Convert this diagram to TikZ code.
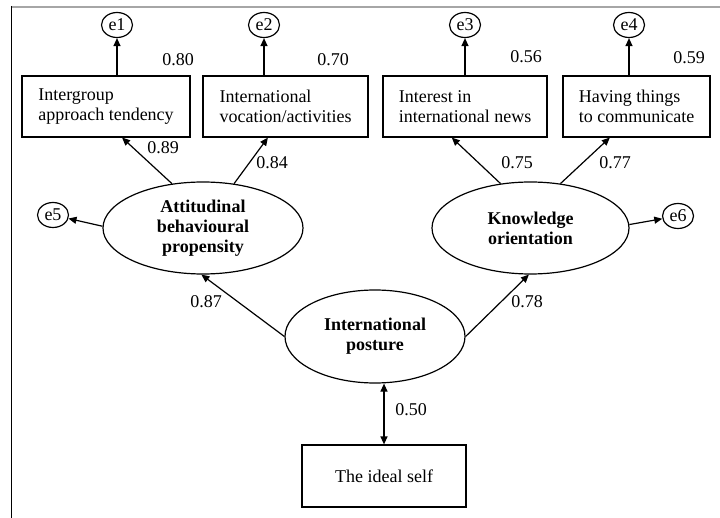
\documentclass[tikz,border=0pt]{standalone}
\usepackage{fontspec}
\setmainfont{Liberation Serif}
\usetikzlibrary{shapes.geometric,arrows.meta,calc}
\begin{document}
\begin{tikzpicture}[x=1pt,y=-1pt,
  box/.style={draw, line width=1.2pt, rectangle, inner sep=0pt, align=left, font=\fontsize{18}{20}\selectfont},
  lat/.style={draw, ellipse, line width=1.2pt, inner sep=0pt, align=center, font=\bfseries\fontsize{18}{20}\selectfont},
  err/.style={draw, ellipse, line width=1.2pt, inner sep=0pt, minimum width=31pt, minimum height=25pt, font=\fontsize{18}{20}\selectfont},
  num/.style={font=\fontsize{18}{20}\selectfont, inner sep=0pt},
  arr/.style={-{Triangle[length=8pt,width=7pt]}, line width=1.2pt}]
\useasboundingbox (0,0) rectangle (720,518);
\draw[gray!70, line width=2.5pt] (11,7) -- (720,7);
\draw[line width=1.5pt] (11.5,6) -- (11.5,518);

% indicator boxes
\node[box, minimum width=168pt, minimum height=61pt] (b1) at (106,106.5) {Intergroup\\approach tendency};
\node[box, minimum width=165pt, minimum height=61pt] (b2) at (285.5,106.5) {International\\vocation/activities};
\node[box, minimum width=164pt, minimum height=61pt] (b3) at (465,106.5) {Interest in\\international news};
\node[box, minimum width=147pt, minimum height=61pt] (b4) at (636.5,106.5) {Having things\\to communicate};

% error terms
\node[err] (e1) at (117,25) {e1};
\node[err] (e2) at (264,25) {e2};
\node[err] (e3) at (465,25) {e3};
\node[err] (e4) at (629,25) {e4};
\node[err] (e5) at (53,215) {e5};
\node[err] (e6) at (678,216) {e6};

% latent variables
\node[lat, minimum width=200pt, minimum height=92pt] (att) at (203,228) {Attitudinal\\behavioural\\propensity};
\node[lat, minimum width=197pt, minimum height=92pt] (know) at (530.5,228) {Knowledge\\orientation};
\node[lat, minimum width=180pt, minimum height=93pt] (post) at (375,336.5) {International\\posture};

\node[box, minimum width=164pt, minimum height=62pt, align=center] (ideal) at (384,476) {The ideal self};

% connectors
\draw[arr] (b1.north -| e1) -- (e1);
\draw[arr] (b2.north -| e2) -- (e2);
\draw[arr] (b3.north -| e3) -- (e3);
\draw[arr] (b4.north -| e4) -- (e4);
\draw[arr] (att.125) -- ($(b1.south west)!0.595!(b1.south east)$);
\draw[arr] (att.55) -- ($(b2.south west)!0.394!(b2.south east)$);
\draw[arr] (att.179) -- (e5);
\draw[arr] (know.124) -- ($(b3.south west)!0.42!(b3.south east)$);
\draw[arr] (know.56) -- ($(b4.south west)!0.32!(b4.south east)$);
\draw[arr] (know.2) -- (e6);
\draw[arr] (post.west) -- (att.268);
\draw[arr] (post.east) -- (know.268);
\draw[{Triangle[length=8pt,width=7pt]}-{Triangle[length=8pt,width=7pt]}, line width=1.2pt] (ideal.north) -- (ideal.north |- post.south);

% coefficients
\node[num] (n1) at (178,60) {0.80};
\node[num] (n2) at (333,60) {0.70};
\node[num] (n3) at (526,57) {0.56};
\node[num] (n4) at (689,58) {0.59};
\node[num] (n5) at (163,148) {0.89};
\node[num] (n6) at (272,163) {0.84};
\node[num] (n7) at (517,163) {0.75};
\node[num] (n8) at (615,163) {0.77};
\node[num] (n9) at (206,302) {0.87};
\node[num] (n10) at (527,302) {0.78};
\node[num] (n11) at (411,410) {0.50};
\end{tikzpicture}
\end{document}
